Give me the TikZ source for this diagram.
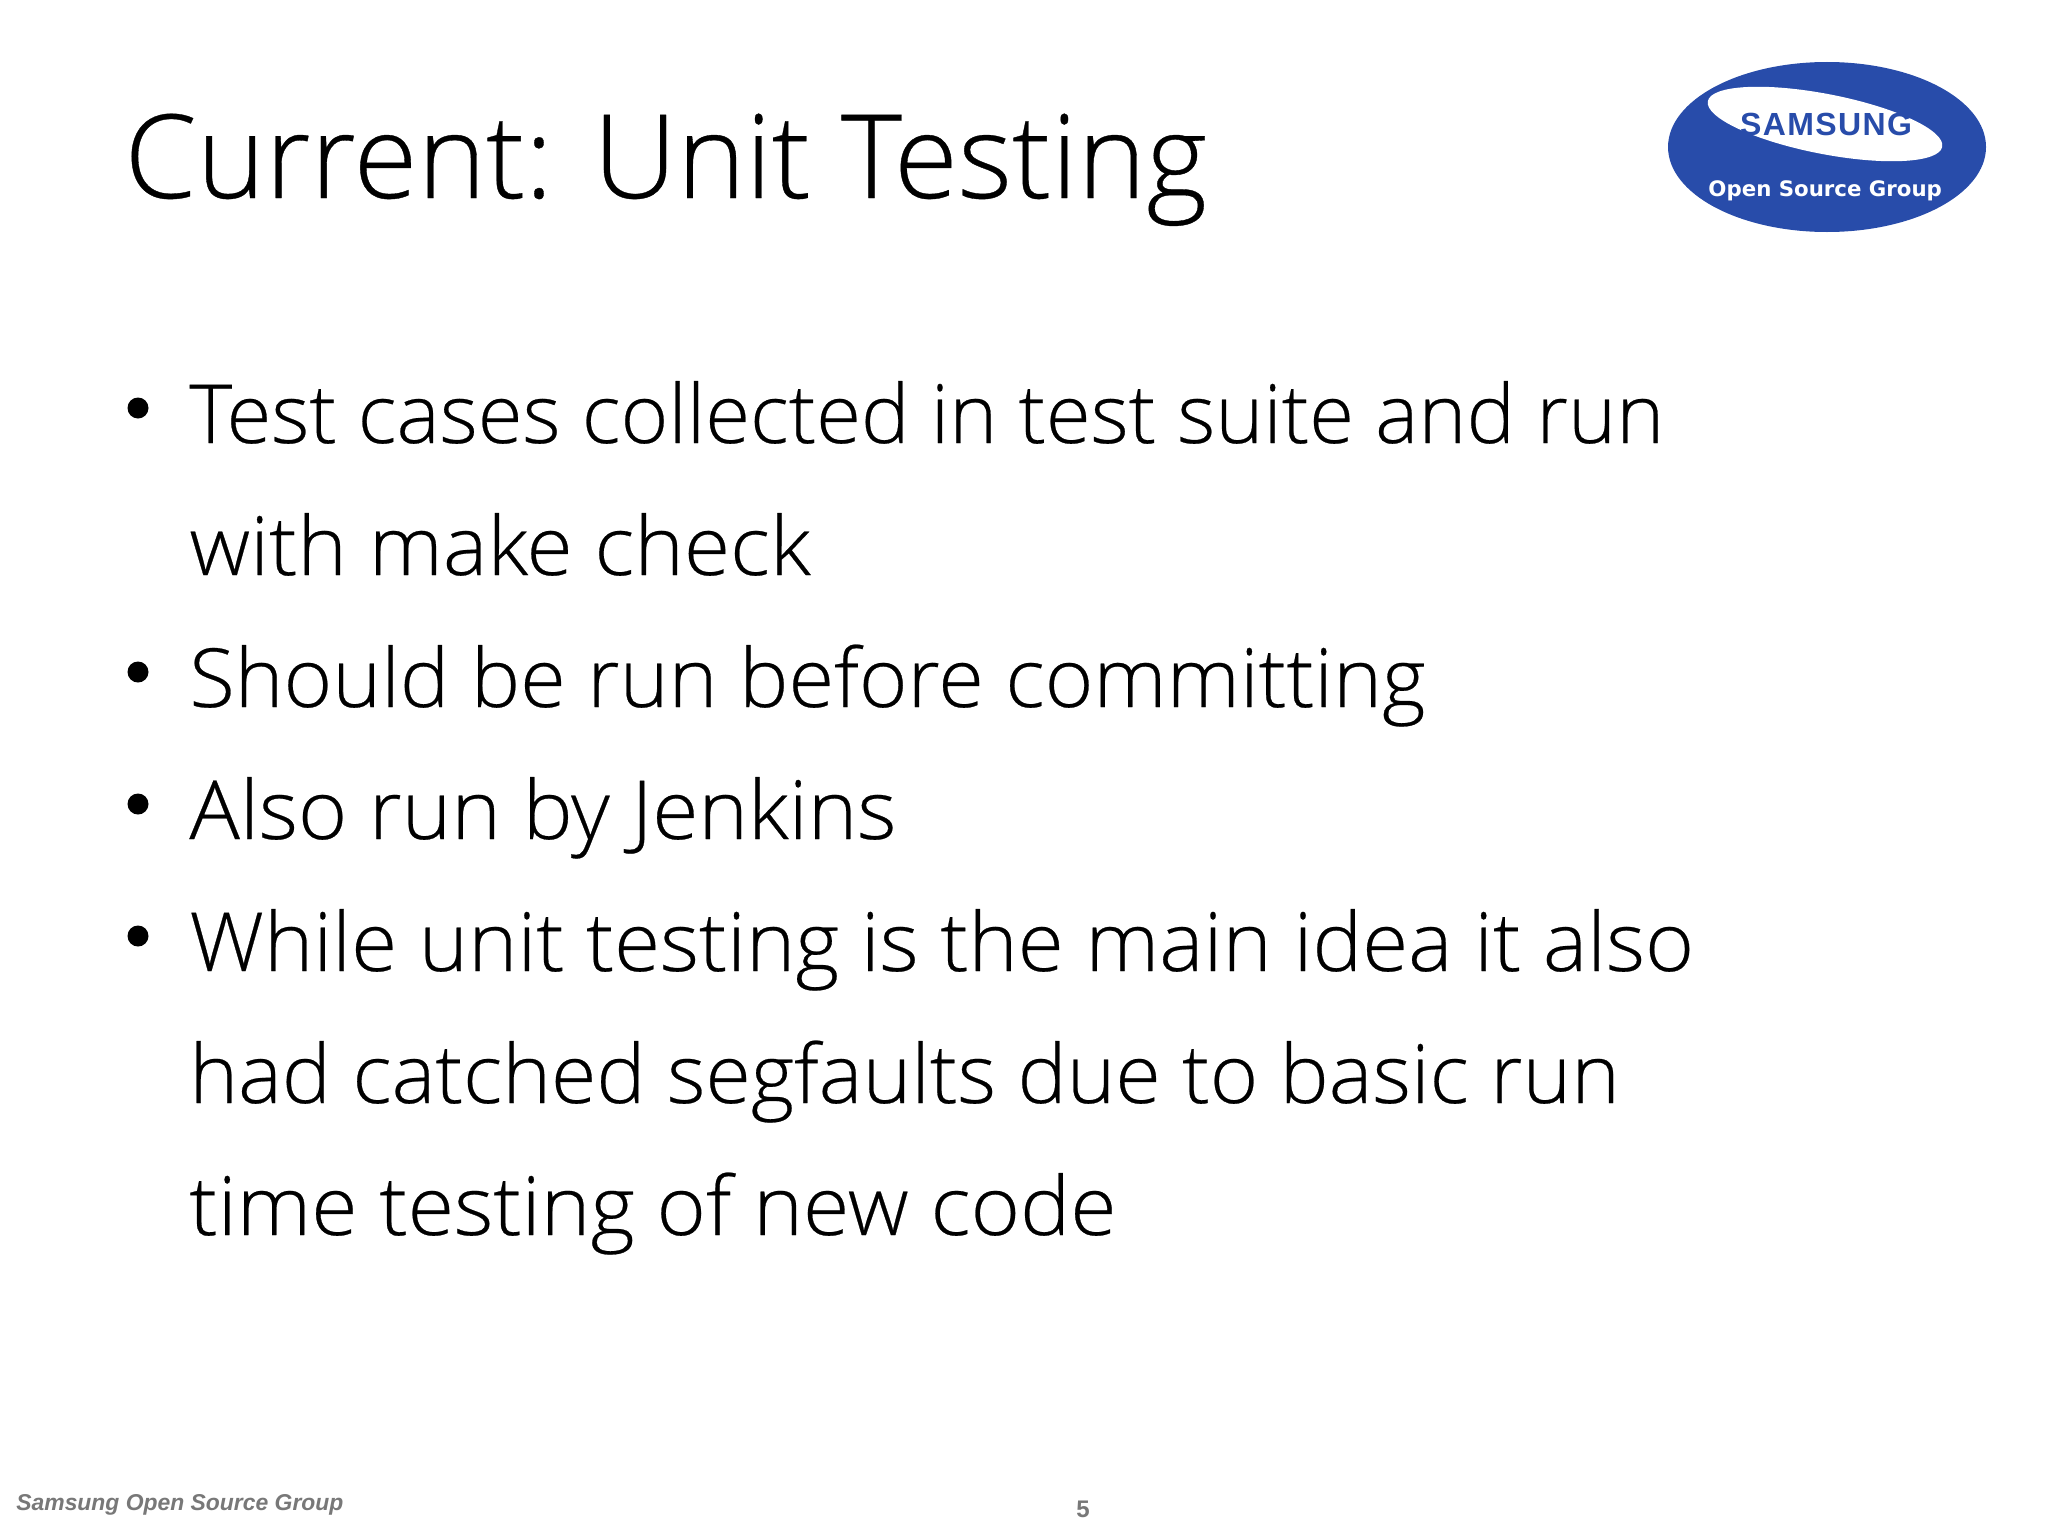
\documentclass[tikz,border=0pt]{standalone}
\usepackage{fontspec}
\setmainfont[FakeBold=0.3]{Open Sans Light}
\newfontfamily\footfont{Liberation Sans}
\newfontfamily\logofont{DejaVu Sans}
\usetikzlibrary{positioning, shapes.geometric}
\definecolor{samsungblue}{RGB}{40,76,170}
\definecolor{footgray}{RGB}{120,120,120}

\begin{document}
\begin{tikzpicture}[x=1pt,y=-1pt,
    slidetext/.style={anchor=base west, inner sep=0pt, xscale=#1, transform shape, font=\fontsize{40.8}{41}\selectfont},
    bulletdot/.style={circle, fill=black, inner sep=0pt, minimum size=10.5pt}
]
    \useasboundingbox (0,0) rectangle (1024,768);
    \fill[white] (0,0) rectangle (1024,768);

    \node[anchor=base west, inner sep=0pt, font=\fontsize{58.2}{58}\selectfont] (title) at (62,99) {Current: Unit Testing};

    % logo
    \node[ellipse, fill=samsungblue, minimum width=159pt, minimum height=85pt, inner sep=0pt] (logo) at (913.5,73.5) {};
    \fill[white, rotate around={-11:(912.5,62)}] (912.5,62) ellipse (59.7pt and 15pt);
    \node[inner sep=0pt, text=samsungblue, font=\footfont\bfseries\fontsize{16}{16}\selectfont] (brand) at (913,62) {S\hspace{0.7pt}A\hspace{0.7pt}M\hspace{0.7pt}S\hspace{0.7pt}U\hspace{0.7pt}N\hspace{0.7pt}G};
    \node[anchor=base, inner sep=0pt, text=white, font=\logofont\bfseries\fontsize{10.65}{12}\selectfont] (group) at (912.6,98) {Open Source Group};

    % bullets
    \node[slidetext=1] (lineA) at (94.5,221.5) {Test cases collected in test suite and run};
    \node[slidetext=1.03] (lineB) at (94.5,287.5) {with make check};
    \node[slidetext=1.017] (lineC) at (94.5,353.5) {Should be run before committing};
    \node[slidetext=1.03] (lineD) at (94.5,419.5) {Also run by Jenkins};
    \node[slidetext=1.025] (lineE) at (94.5,485.5) {While unit testing is the main idea it also};
    \node[slidetext=1.012] (lineF) at (94.5,551.5) {had catched segfaults due to basic run};
    \node[slidetext=1.034] (lineG) at (94.5,617.5) {time testing of new code};

    \node[bulletdot] (dotA) at (69,204) {};
    \node[bulletdot] (dotC) at (69,336) {};
    \node[bulletdot] (dotD) at (69,402) {};
    \node[bulletdot] (dotE) at (69,468) {};

    % footer
    \node[anchor=base west, inner sep=0pt, text=footgray, font=\footfont\bfseries\itshape\fontsize{11.45}{12}\selectfont] (foot) at (8,755) {Samsung Open Source Group};
    \node[anchor=base, inner sep=0pt, text=footgray, font=\footfont\bfseries\fontsize{12}{12}\selectfont] (page) at (541.5,758.5) {5};
\end{tikzpicture}
\end{document}
